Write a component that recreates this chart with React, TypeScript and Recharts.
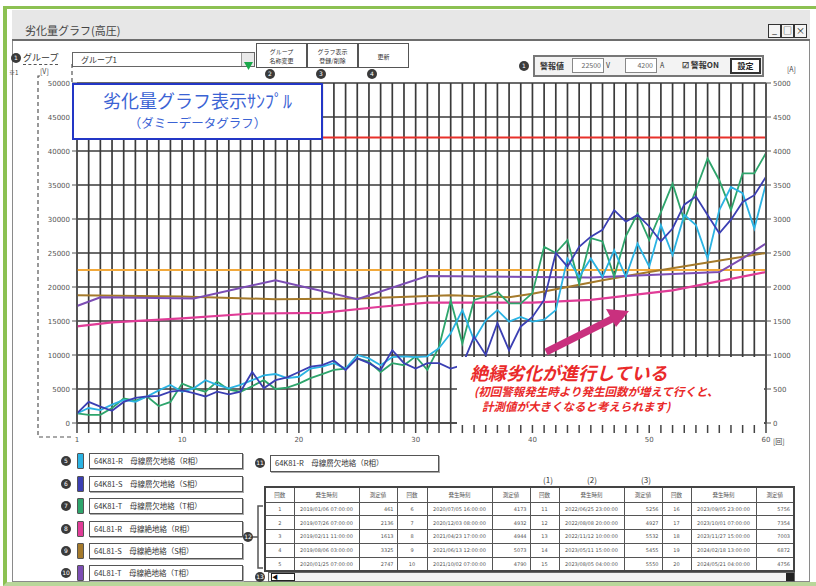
import React from 'react';
import { LineChart, Line, XAxis, YAxis, CartesianGrid, ReferenceLine } from 'recharts';

// x categories (measurement count)
const counts = Array.from({ length: 60 }, (_, i) => i + 1);
const labelCounts = [1, 10, 20, 30, 40, 50, 60];
const leftTicks = [0, 5000, 10000, 15000, 20000, 25000, 30000, 35000, 40000, 45000, 50000];
const rightTicks = [0, 500, 1000, 1500, 2000, 2500, 3000, 3500, 4000, 4500, 5000];

// 64K81 母線層欠地絡 (values every count)
const k81R = [1400, 2200, 1900, 2700, 3400, 3100, 3900, 4800, 5600, 4600, 5100, 6300, 5600, 5100, 5600, 6300, 7000, 7200, 6600, 6800,
  8000, 8300, 8800, 8000, 10000, 9500, 8500, 9700, 9800, 9700, 9800, 11000, 13200, 16600, 12200, 15100, 16600, 14900, 15600, 14900,
  15200, 16600, 24200, 21500, 24200, 21500, 25400, 21500, 26400, 23000, 29100, 24700, 30600, 29100, 24200, 31300, 34700, 33800, 28600, 35200];
const k81S = [1400, 3100, 2400, 1800, 3100, 3700, 3900, 4000, 4600, 4800, 4400, 3900, 4600, 4200, 4600, 7500, 5100, 6300, 6700, 7500,
  8300, 8500, 9200, 7800, 9500, 8800, 7800, 10700, 8800, 8000, 8800, 8800, 8000, 8500, 12700, 10000, 14700, 10700, 14200, 15600,
  18100, 25000, 23000, 25900, 27400, 28400, 31300, 29600, 30600, 28900, 26700, 28600, 32100, 33300, 30600, 27900, 29900, 32500, 33500, 36200];
const k81T = [1400, 1200, 1200, 2200, 3600, 3300, 3900, 2500, 3100, 5800, 5100, 4600, 6100, 4900, 4600, 5400, 6300, 5000, 5200, 5800,
  6600, 7200, 7800, 8000, 9500, 9000, 7500, 8800, 8500, 9800, 7800, 11200, 18000, 11700, 18100, 18600, 19300, 17600, 17600, 19100,
  25900, 25000, 26900, 20500, 27200, 26700, 21500, 27500, 30800, 26900, 31000, 35200, 29800, 34300, 38900, 35700, 31300, 36700, 36700, 39700];

// 64L81 母線絶地絡 (values read at the visible bends)
const l81RAt = [1, 4, 10, 16, 22, 27, 31, 40, 45, 52, 60];
const l81R = [14200, 14800, 15400, 16100, 16200, 17100, 17700, 17700, 18100, 19500, 22200];
const l81SAt = [1, 10, 18, 25, 33, 38, 40, 46, 50, 55, 60];
const l81S = [18800, 18600, 18200, 18300, 18800, 18500, 19000, 21000, 22200, 23600, 25000];
const l81TAt = [1, 3, 11, 18, 25, 31, 45, 56, 58, 60];
const l81T = [17200, 18500, 18300, 21000, 18200, 21600, 21400, 22200, 24200, 26400];

const alarmV = 22500;
const alarmA = 4200;

const seriesNames = [
  '64K81-R　母線層欠地絡（R相）',
  '64K81-S　母線層欠地絡（S相）',
  '64K81-T　母線層欠地絡（T相）',
  '64L81-R　母線絶地絡（R相）',
  '64L81-S　母線絶地絡（S相）',
  '64L81-T　母線絶地絡（T相）',
];
const seriesColors = ['#2bb3e3', '#3b3fb3', '#2ea56c', '#e03c97', '#a57a2b', '#7c4db4'];

// alarm history table
const tblNo = [1, 2, 3, 4, 5, 6, 7, 8, 9, 10, 11, 12, 13, 14, 15, 16, 17, 18, 19, 20];
const tblTime = [
  '2019/01/06 07:00:00', '2019/07/26 07:00:00', '2019/02/11 11:00:00', '2019/08/06 03:00:00', '2020/01/25 07:00:00',
  '2020/07/05 16:00:00', '2020/12/03 08:00:00', '2021/04/23 17:00:00', '2021/06/13 12:00:00', '2021/10/02 07:00:00',
  '2022/06/25 23:00:00', '2022/08/08 20:00:00', '2022/11/12 10:00:00', '2023/05/11 15:00:00', '2023/08/05 04:00:00',
  '2023/09/05 23:00:00', '2023/10/01 07:00:00', '2023/11/27 15:00:00', '2024/02/18 13:00:00', '2024/05/21 04:00:00',
];
const tblVal = [461, 2136, 1613, 3325, 2747, 4173, 4932, 4944, 5073, 4790, 5256, 4927, 5532, 5455, 5550, 5756, 7354, 7003, 6872, 4756];

const pick = (at: number[], vals: number[], n: number) => {
  const i = at.indexOf(n);
  return i >= 0 ? vals[i] : null;
};

const data = counts.map((n, i) => ({
  n,
  kR: k81R[i],
  kS: k81S[i],
  kT: k81T[i],
  lR: pick(l81RAt, l81R, n),
  lS: pick(l81SAt, l81S, n),
  lT: pick(l81TAt, l81T, n),
}));

const JP = '"Noto Sans CJK JP", "Noto Sans", sans-serif';
const TK = '"DejaVu Sans", sans-serif';

const LeftTick = ({ x, y, payload }: any) => (
  <text x={x} y={y} dy={3} textAnchor="end" fontSize={7} fill="#555" fontFamily={TK}>{payload.value}</text>
);
const RightTick = ({ x, y, payload }: any) => (
  <text x={x} y={y} dy={3} textAnchor="start" fontSize={7} fill="#555" fontFamily={TK}>{payload.value}</text>
);
const BottomTick = ({ x, y, payload }: any) =>
  labelCounts.includes(payload.value) ? (
    <text x={x} y={y} dy={7} textAnchor="middle" fontSize={7} fill="#555" fontFamily={TK}>{payload.value}</text>
  ) : <g />;

const Num = ({ x, y, n }: { x: number; y: number; n: string }) => (
  <div style={{
    position: 'absolute', left: x - 5, top: y - 5, width: 10, height: 10, borderRadius: '50%',
    background: '#3a3a3a', color: '#fff', fontSize: 6, lineHeight: '10px', textAlign: 'center', fontFamily: TK,
  }}>{n}</div>
);

const abs = (l: number, t: number, w: number, h: number): React.CSSProperties => ({
  position: 'absolute', left: l, top: t, width: w, height: h, boxSizing: 'border-box',
});

const legendTops = [453, 476, 498, 521, 543, 565];
const colW = [29, 65, 38, 30, 65, 38, 29, 65, 38, 29, 65, 38];

export default function App() {
  return (
    <div style={{ position: 'absolute', left: 0, top: 0, width: 816, height: 586, overflow: 'hidden', background: '#fff', fontFamily: JP }}>
      {/* outer frame */}
      <div style={{ ...abs(3, 6, 813, 580), borderLeft: '4px solid #8cc152', borderTop: '3px solid #8cc152', borderBottom: '4px solid #b9d79a' }} />
      {/* window */}
      <div style={{ ...abs(12, 10, 798, 572), border: '1px solid #8a8a8a', background: '#fff' }} />
      <div style={{ ...abs(12, 10, 798, 31), background: '#e7e7e7', borderBottom: '2px solid #6d6d6d' }} />
      <div style={{ position: 'absolute', left: 25, top: 22, fontSize: 11, color: '#444' }}>劣化量グラフ(高圧)</div>
      {['_', '□', '×'].map((c, i) => (
        <div key={i} style={{ ...abs(768 + i * 13, 24, 13, 14), border: '1px solid #333', background: '#f4f4f4', fontSize: 9, lineHeight: '12px', textAlign: 'center', color: '#111' }}>{c}</div>
      ))}

      {/* group controls */}
      <Num x={16} y={58} n="1" />
      <div style={{ position: 'absolute', left: 23, top: 51, fontSize: 9, color: '#333', borderBottom: '1px dashed #555' }}>グループ</div>
      <div style={{ ...abs(72, 52, 183, 15), border: '1px solid #666', fontSize: 8, lineHeight: '13px', paddingLeft: 8, color: '#333' }}>グループ1</div>
      <div style={{ ...abs(241, 53, 13, 13), background: '#e9e9e9', borderLeft: '1px solid #999' }}>
        <svg width={13} height={13}><polygon points="2,3 11,3 6.5,11" fill="#1aa84b" /></svg>
      </div>
      {[['グループ', '名称変更'], ['グラフ表示', '登録/削除'], ['更新', '']].map((t, i) => (
        <div key={i} style={{ ...abs(256 + i * 51, 43, 51, 25), border: '1px solid #555', fontSize: 6, lineHeight: '9px', textAlign: 'center', paddingTop: t[1] ? 3 : 8, color: '#333' }}>
          {t[0]}<br />{t[1]}
        </div>
      ))}
      <Num x={270} y={74} n="2" />
      <Num x={321} y={74} n="3" />
      <Num x={372} y={74} n="4" />

      {/* alarm settings */}
      <Num x={524} y={66} n="1" />
      <div style={{ ...abs(533, 55, 231, 22), border: '2px solid #777', background: '#f3f3f3' }} />
      <div style={{ position: 'absolute', left: 540, top: 60, fontSize: 8, fontWeight: 700, color: '#333' }}>警報値</div>
      <div style={{ ...abs(572, 58, 32, 15), border: '1px solid #888', background: '#fff', fontSize: 7, lineHeight: '13px', textAlign: 'right', paddingRight: 2, color: '#666' }}>{alarmV}</div>
      <div style={{ position: 'absolute', left: 606, top: 60, fontSize: 7, color: '#333' }}>V</div>
      <div style={{ ...abs(625, 58, 32, 15), border: '1px solid #888', background: '#fff', fontSize: 7, lineHeight: '13px', textAlign: 'right', paddingRight: 3, color: '#666' }}>{alarmA}</div>
      <div style={{ position: 'absolute', left: 660, top: 60, fontSize: 7, color: '#333' }}>A</div>
      <div style={{ position: 'absolute', left: 682, top: 59, fontSize: 8, fontWeight: 700, color: '#333' }}>☑ 警報ON</div>
      <div style={{ ...abs(730, 58, 31, 16), border: '2px solid #333', background: '#fff', fontSize: 8, fontWeight: 700, lineHeight: '12px', textAlign: 'center', color: '#222' }}>設定</div>
      <div style={{ position: 'absolute', left: 787, top: 64, fontSize: 7, color: '#444' }}>[A]</div>
      <div style={{ position: 'absolute', left: 9, top: 68, fontSize: 6, color: '#444' }}>※1</div>
      <div style={{ position: 'absolute', left: 40, top: 66, fontSize: 7, color: '#444' }}>[V]</div>

      {/* chart */}
      <div style={{ position: 'absolute', left: 0, top: 0 }}>
        <LineChart width={816} height={586} data={data} margin={{ top: 83, right: 10, bottom: 143, left: 37 }}>
          <CartesianGrid yAxisId="l" stroke="#3a3a3a" strokeWidth={1.7} />
          <XAxis dataKey="n" type="number" domain={[1, 60]} ticks={counts} interval={0} tickSize={10} height={20}
            tick={<BottomTick />} stroke="#444" tickLine={{ stroke: '#444', strokeWidth: 1.5 }} axisLine={{ stroke: '#444', strokeWidth: 1.5 }} />
          <YAxis yAxisId="l" domain={[0, 50000]} ticks={leftTicks} interval={0} width={40} tickSize={5}
            tick={<LeftTick />} stroke="#555" axisLine={{ stroke: '#555', strokeWidth: 1.5 }} />
          <YAxis yAxisId="r" orientation="right" domain={[0, 5000]} ticks={rightTicks} interval={0} width={40} tickSize={5}
            tick={<RightTick />} stroke="#555" axisLine={{ stroke: '#555', strokeWidth: 2 }} allowDataOverflow />
          <ReferenceLine yAxisId="l" y={alarmV} stroke="#f2a93b" strokeWidth={2} />
          <ReferenceLine yAxisId="r" y={alarmA} stroke="#e8312b" strokeWidth={2} />
          <Line yAxisId="l" dataKey="lS" stroke={seriesColors[4]} strokeWidth={2} dot={false} connectNulls isAnimationActive={false} />
          <Line yAxisId="l" dataKey="lR" stroke={seriesColors[3]} strokeWidth={2.2} dot={false} connectNulls isAnimationActive={false} />
          <Line yAxisId="l" dataKey="lT" stroke={seriesColors[5]} strokeWidth={2} dot={false} connectNulls isAnimationActive={false} />
          <Line yAxisId="l" dataKey="kT" stroke={seriesColors[2]} strokeWidth={1.8} dot={false} isAnimationActive={false} />
          <Line yAxisId="l" dataKey="kR" stroke={seriesColors[0]} strokeWidth={1.8} dot={false} isAnimationActive={false} />
          <Line yAxisId="l" dataKey="kS" stroke={seriesColors[1]} strokeWidth={1.8} dot={false} isAnimationActive={false} />
        </LineChart>
      </div>
      <div style={{ position: 'absolute', left: 773, top: 436, fontSize: 7, color: '#444' }}>[回]</div>

      {/* dashed bracket round the left axis */}
      <svg style={{ position: 'absolute', left: 0, top: 0 }} width={816} height={586}>
        <polyline points="40,76 38,76 38,437 73,437" fill="none" stroke="#555" strokeWidth={1.2} strokeDasharray="4 3" />
        <line x1={72} y1={64} x2={72} y2={83} stroke="#555" strokeWidth={1.2} strokeDasharray="4 3" />
      </svg>

      {/* title overlay */}
      <div style={{ ...abs(72, 83, 251, 57), border: '2px solid #2336c6', background: '#fff', textAlign: 'center', color: '#3b63d4' }}>
        <div style={{ fontSize: 18, lineHeight: '22px', marginTop: 4 }}>劣化量グラフ表示ｻﾝﾌﾟﾙ</div>
        <div style={{ fontSize: 12.5, lineHeight: '16px', marginTop: 4 }}>（ダミーデータグラフ）</div>
      </div>

      {/* annotation */}
      <div style={{ ...abs(457, 357, 307, 68), background: '#fff' }} />
      <div style={{ position: 'absolute', left: 470, top: 360, color: '#ea2a2a', fontWeight: 700, fontStyle: 'italic', whiteSpace: 'nowrap' }}>
        <div style={{ fontSize: 18, lineHeight: '24px' }}>絶縁劣化が進行している</div>
        <div style={{ fontSize: 11.5, lineHeight: '15px', marginLeft: 4 }}>(初回警報発生時より発生回数が増えて行くと、</div>
        <div style={{ fontSize: 11.5, lineHeight: '15px', marginLeft: 12 }}>計測値が大きくなると考えられます)</div>
      </div>
      <svg style={{ position: 'absolute', left: 0, top: 0 }} width={816} height={586}>
        <line x1={546} y1={352} x2={614} y2={318} stroke="#c9307e" strokeWidth={7} />
        <polygon points="629,311 606,309 616,327" fill="#c9307e" />
      </svg>

      {/* series list */}
      {seriesNames.map((name, i) => (
        <React.Fragment key={i}>
          <Num x={66} y={legendTops[i] + 8} n={String(5 + i)} />
          <div style={{ ...abs(77, legendTops[i], 7, 16), background: seriesColors[i], border: '1px solid #555', borderRadius: 1 }} />
          <div style={{ ...abs(89, legendTops[i], 154, 16), border: '1.5px solid #555', boxShadow: '1px 1px 0 #aaa', fontSize: 7.5, lineHeight: '13px', paddingLeft: 4, color: '#333', whiteSpace: 'nowrap' }}>{name}</div>
        </React.Fragment>
      ))}

      {/* selected series + history table */}
      <Num x={260} y={463} n="11" />
      <div style={{ ...abs(270, 455, 169, 17), border: '1.5px solid #555', boxShadow: '1px 1px 0 #aaa', fontSize: 7.5, lineHeight: '14px', paddingLeft: 4, color: '#333', whiteSpace: 'nowrap' }}>{seriesNames[0]}</div>
      {['(1)', '(2)', '(3)'].map((t, i) => (
        <div key={i} style={{ position: 'absolute', left: [543, 587, 641][i], top: 474, fontSize: 8, color: '#333' }}>{t}</div>
      ))}
      <table style={{ position: 'absolute', left: 264, top: 486, width: 529, height: 84, borderCollapse: 'collapse', border: '2px solid #444', tableLayout: 'fixed', fontFamily: TK, fontSize: 5, color: '#555' }}>
        <colgroup>{colW.map((w, i) => <col key={i} style={{ width: w }} />)}</colgroup>
        <tbody>
          <tr style={{ height: 15 }}>
            {colW.map((_, i) => (
              <td key={i} style={{ border: '1px solid #555', textAlign: 'center', fontFamily: JP, fontSize: 5.5, padding: 0 }}>{['回数', '発生時刻', '測定値'][i % 3]}</td>
            ))}
          </tr>
          {[0, 1, 2, 3, 4].map((r) => (
            <tr key={r} style={{ height: 13.8 }}>
              {[0, 1, 2, 3].map((g) => {
                const k = g * 5 + r;
                return (
                  <React.Fragment key={g}>
                    <td style={{ border: '1px solid #555', textAlign: 'center', padding: 0 }}>{tblNo[k]}</td>
                    <td style={{ border: '1px solid #555', textAlign: 'center', padding: 0 }}>{tblTime[k]}</td>
                    <td style={{ border: '1px solid #555', textAlign: 'right', padding: '0 3px 0 0' }}>{tblVal[k]}</td>
                  </React.Fragment>
                );
              })}
            </tr>
          ))}
        </tbody>
      </table>
      <svg style={{ position: 'absolute', left: 0, top: 0 }} width={816} height={586}>
        <polyline points="263,506 258,506 258,568 263,568" fill="none" stroke="#555" strokeWidth={1.5} />
        <line x1={252} y1={537} x2={258} y2={537} stroke="#555" strokeWidth={1.5} />
      </svg>
      <Num x={248} y={537} n="12" />
      <Num x={260} y={577} n="13" />
      <div style={{ ...abs(268, 572, 527, 10), border: '1px solid #666', background: '#f2f2f2' }} />
      <div style={{ ...abs(271, 573, 24, 8), border: '1.5px solid #222', background: '#fff', fontSize: 6, lineHeight: '5px', color: '#111' }}>◀</div>
      <div style={{ ...abs(786, 573, 8, 8), background: '#222' }} />
    </div>
  );
}
